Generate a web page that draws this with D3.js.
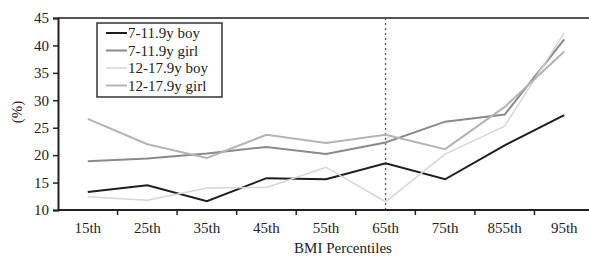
<!DOCTYPE html>
<html>
<head>
<meta charset="utf-8">
<script src="https://cdn.jsdelivr.net/npm/d3@7"></script>
<style>
  body { margin: 0; background: #fff; }
  svg { display: block; font-family: "Liberation Serif", "DejaVu Serif", serif; }
</style>
</head>
<body>
<svg id="chart"></svg>
<script>
const categories = ["15th", "25th", "35th", "45th", "55th", "65th", "75th", "855th", "95th"];
const boy7 = [13.3, 14.5, 11.6, 15.8, 15.6, 18.5, 15.6, 21.8, 27.3];
const girl7 = [18.9, 19.4, 20.3, 21.5, 20.2, 22.3, 26.1, 27.4, 41.1];
const boy12 = [12.4, 11.8, 14.0, 14.1, 17.8, 11.5, 20.2, 25.3, 42.3];
const girl12 = [26.6, 22.0, 19.5, 23.7, 22.2, 23.7, 21.1, 28.8, 38.9];
const yTicks = [10, 15, 20, 25, 30, 35, 40, 45];

const series = [
  {name: "7-11.9y boy", values: boy7, color: "#1e1e1e", width: 2},
  {name: "7-11.9y girl", values: girl7, color: "#8a8a8a", width: 2},
  {name: "12-17.9y boy", values: boy12, color: "#d6d6d6", width: 1.5},
  {name: "12-17.9y girl", values: girl12, color: "#b4b4b4", width: 2}
];

const width = 589, height = 256;
const margin = {top: 18, left: 58, bottom: 46};

const svg = d3.select("#chart").attr("width", width).attr("height", height);

const x = d3.scaleBand()
  .domain(categories)
  .range([margin.left, 594]);

const y = d3.scaleLinear()
  .domain([10, 45])
  .range([height - margin.bottom, margin.top]);

// top frame line
svg.append("line")
  .attr("x1", margin.left).attr("x2", width)
  .attr("y1", y(45)).attr("y2", y(45))
  .attr("stroke", "#555").attr("stroke-width", 2);

// cutoff at 65th
svg.append("line")
  .attr("x1", x("65th") + x.bandwidth() / 2).attr("x2", x("65th") + x.bandwidth() / 2)
  .attr("y1", y(45)).attr("y2", y(10))
  .attr("stroke", "#555").attr("stroke-width", 1.3)
  .attr("stroke-dasharray", "2,3");

const line = d3.line()
  .x((d, i) => x(categories[i]) + x.bandwidth() / 2)
  .y(d => y(d));

svg.selectAll(".series")
  .data(series)
  .enter()
  .append("path")
  .attr("class", "series")
  .attr("fill", "none")
  .attr("stroke", d => d.color)
  .attr("stroke-width", d => d.width)
  .attr("d", d => line(d.values));

// axes
const xAxis = svg.append("g")
  .attr("transform", `translate(0,${y(10)})`)
  .call(d3.axisBottom(x).tickSize(0).tickPadding(12));
xAxis.select(".domain").remove();
xAxis.selectAll("text").attr("font-size", 15).attr("fill", "#222").attr("font-family", "Liberation Serif");

svg.append("line")
  .attr("x1", margin.left).attr("x2", width)
  .attr("y1", y(10)).attr("y2", y(10))
  .attr("stroke", "#222").attr("stroke-width", 2);

svg.selectAll(".xtick")
  .data(categories.slice(1))
  .enter()
  .append("line")
  .attr("x1", d => x(d)).attr("x2", d => x(d))
  .attr("y1", y(10)).attr("y2", y(10) + 5)
  .attr("stroke", "#222").attr("stroke-width", 1.5);

const yAxis = svg.append("g")
  .attr("transform", `translate(${margin.left},0)`)
  .call(d3.axisLeft(y).tickValues(yTicks).tickSize(5).tickPadding(4));
yAxis.select(".domain").attr("stroke", "#222").attr("stroke-width", 2);
yAxis.selectAll(".tick line").attr("stroke", "#222").attr("stroke-width", 1.5);
yAxis.selectAll("text").attr("font-size", 15).attr("fill", "#222").attr("font-family", "Liberation Serif");

// axis titles
svg.append("text")
  .attr("x", 343).attr("y", 253)
  .attr("text-anchor", "middle")
  .attr("font-size", 15).attr("fill", "#222")
  .text("BMI Percentiles");

svg.append("text")
  .attr("transform", `translate(22,${(y(10) + y(45)) / 2 - 2}) rotate(-90)`)
  .attr("text-anchor", "middle")
  .attr("font-size", 15).attr("fill", "#222")
  .text("(%)");

// legend
const legend = svg.append("g").attr("transform", "translate(97,23)");
legend.append("rect")
  .attr("width", 125).attr("height", 74)
  .attr("fill", "#fff").attr("stroke", "#333").attr("stroke-width", 1.5);

const item = legend.selectAll(".item")
  .data(series)
  .enter()
  .append("g")
  .attr("transform", (d, i) => `translate(0,${10 + i * 17.5})`);
item.append("line")
  .attr("x1", 9).attr("x2", 30)
  .attr("stroke", d => d.color)
  .attr("stroke-width", d => d.width);
item.append("text")
  .attr("x", 31).attr("y", 5)
  .attr("font-size", 15).attr("fill", "#222")
  .text(d => d.name);
</script>
</body>
</html>
